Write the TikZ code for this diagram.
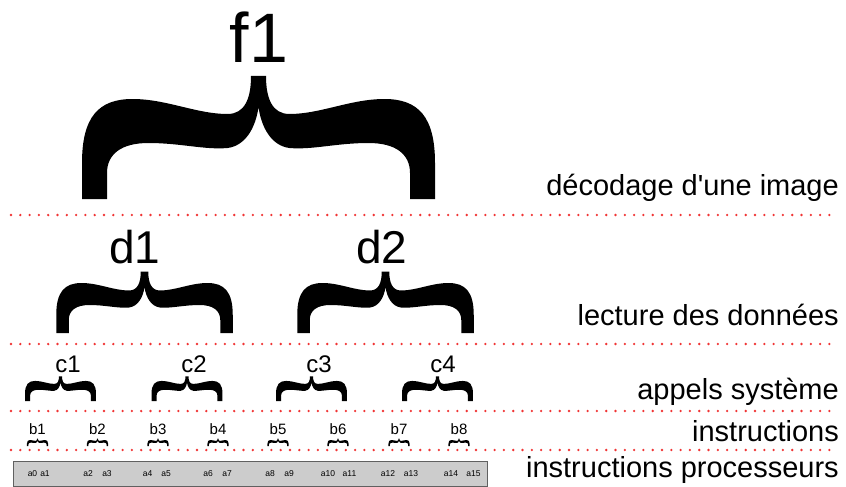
\documentclass[tikz,border=0pt]{standalone}
\usepackage{fontspec}
\setmainfont{Liberation Sans}
\newfontfamily\labfont{Liberation Sans}
\definecolor{dotred}{HTML}{F03434}
\definecolor{barfill}{HTML}{CCCCCC}
\definecolor{barline}{HTML}{606060}
\tikzset{
  curlybrace/.pic={
    \fill[black] (-176.5,0) -- (-176.5,-36)
      .. controls (-176.5,-82) and (-160,-100) .. (-126,-100)
      .. controls (-92,-100) and (-62,-85) .. (-31,-85)
      .. controls (-14,-85) and (-7.5,-100) .. (-7.5,-123)
      -- (7.5,-123)
      .. controls (7.5,-100) and (14,-85) .. (31,-85)
      .. controls (62,-85) and (92,-100) .. (126,-100)
      .. controls (160,-100) and (176.5,-82) .. (176.5,-36)
      -- (176.5,0) -- (151.5,0) -- (151.5,-26)
      .. controls (151.5,-45) and (137,-56) .. (110,-56)
      .. controls (78,-56) and (54,-49) .. (31,-51)
      .. controls (14,-53) and (3,-70) .. (0,-92)
      .. controls (-3,-70) and (-14,-53) .. (-31,-51)
      .. controls (-54,-49) and (-78,-56) .. (-110,-56)
      .. controls (-137,-56) and (-151.5,-45) .. (-151.5,-26)
      -- (-151.5,0) -- cycle;
  },
  reddots/.style={dotred, line width=2.6pt, line cap=round, dash pattern=on 0pt off 9.3pt},
  lvlf/.style={anchor=base, inner sep=0, font=\fontsize{70}{70}\selectfont},
  lvld/.style={anchor=base, inner sep=0, font=\fontsize{46}{46}\selectfont},
  lvlc/.style={anchor=base, inner sep=0, font=\fontsize{24}{24}\selectfont},
  lvlb/.style={anchor=base, inner sep=0, font=\fontsize{15}{15}\selectfont},
  lvla/.style={anchor=base, inner sep=0, font=\fontsize{8.5}{8.5}\selectfont},
  rlabel/.style={anchor=base east, inner sep=0, font=\labfont\fontsize{29}{29}\selectfont},
}
\begin{document}
\begin{tikzpicture}[x=1pt,y=-1pt]
\useasboundingbox (0,0) rectangle (846,487);

% dotted separators
\foreach \n/\yy in {1/215,2/344,3/411,4/450}{
  \coordinate (s\n a) at (11,\yy);
  \coordinate (s\n b) at (838,\yy);
  \draw[reddots] (s\n a) -- (s\n b);
}

% level f
\pic at (258.5,199) {curlybrace};
\node[lvlf] (f1) at (259,63) {f1};

% level d
\pic[scale=0.5] at (144.5,333) {curlybrace};
\pic[scale=0.5] at (385.5,333) {curlybrace};
\node[lvld] (d1) at (135,263) {d1};
\node[lvld] (d2) at (382,263) {d2};

% level c
\foreach \i/\cx/\tx in {1/60.5/68,2/187/194,3/311.5/319,4/437.5/443}{
  \pic[scale=0.201] at (\cx,401) {curlybrace};
  \node[lvlc] (c\i) at (\tx,372) {c\i};
}

% level b
\foreach \i/\cx in {1/37.5,2/97.5,3/158,4/218,5/278,6/338,7/399,8/459}{
  \pic[scale=0.06] at (\cx,446) {curlybrace};
  \node[lvlb] (b\i) at (\cx,434) {b\i};
}

% processor bar
\node[draw=barline, fill=barfill, line width=0.8pt, minimum width=474pt, minimum height=25pt,
      inner sep=0, anchor=north west] (bar) at (13,461) {};
\foreach \i/\ax in {0/32.5,1/45,2/88,3/107,4/147.5,5/166,6/208,7/227,8/270,9/289,
                    10/328,11/349.5,12/388,13/411,14/451,15/473.5}{
  \node[lvla] (a\i) at (\ax,476) {a\i};
}

% right-hand labels
\node[rlabel] (ldec) at (839,195) {décodage d'une image};
\node[rlabel] (llec) at (839,325) {lecture des données};
\node[rlabel] (lapp) at (839,399) {appels système};
\node[rlabel] (lins) at (839,441) {instructions};
\node[rlabel] (lpro) at (839,477) {instructions processeurs};
\end{tikzpicture}
\end{document}
